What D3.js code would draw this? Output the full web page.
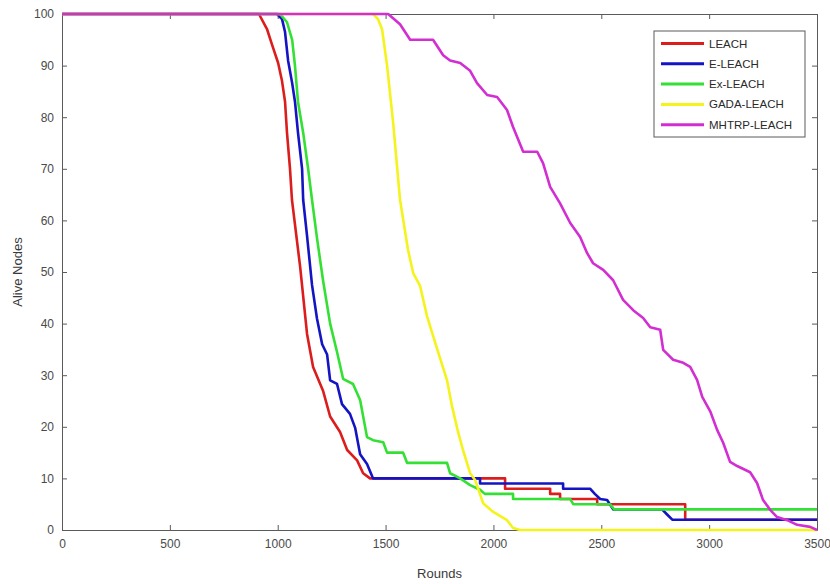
<!DOCTYPE html>
<html>
<head>
<meta charset="utf-8">
<script src="https://cdn.jsdelivr.net/npm/d3@7"></script>
<style>
  body { margin: 0; background: #fff; }
  text { font-family: "Liberation Sans", Arial, sans-serif; }
</style>
</head>
<body>
<div id="chart"></div>
<script>
// series as [round, alive nodes]
var seriesNames = ["LEACH", "E-LEACH", "Ex-LEACH", "GADA-LEACH", "MHTRP-LEACH"];

var leach = [[0, 100], [913, 100], [951, 97], [974, 94], [1002, 90.5], [1020, 87], [1034, 83],
  [1043, 77], [1057, 70], [1066, 64], [1104, 51], [1136, 38], [1164, 31.6], [1210, 27],
  [1243, 22], [1289, 19], [1322, 15.5], [1368, 13.5], [1396, 11], [1428, 10], [2054, 10],
  [2054, 8], [2263, 8], [2263, 7], [2309, 7], [2309, 6], [2481, 6], [2481, 5], [2889, 5],
  [2889, 2], [3500, 2]];

var eLeach = [[0, 100], [997, 100], [1020, 99], [1034, 96.5], [1048, 91], [1067, 86.6],
  [1080, 83], [1094, 77], [1113, 70], [1118, 64], [1136, 57], [1159, 47.5], [1182, 41],
  [1206, 36], [1229, 34], [1243, 29], [1275, 28.3], [1298, 24.4], [1335, 22.5], [1359, 19.8],
  [1382, 14.7], [1414, 12.8], [1442, 10], [1938, 10], [1938, 9], [2323, 9], [2323, 8],
  [2448, 8], [2470, 7], [2495, 6], [2527, 5.8], [2555, 4], [2782, 4], [2805, 3], [2829, 2],
  [3500, 2]];

var exLeach = [[0, 100], [1011, 100], [1043, 98.4], [1067, 95], [1080, 90], [1094, 83],
  [1118, 77], [1141, 70], [1159, 64], [1182, 56.6], [1210, 48.4], [1243, 40], [1275, 34.5],
  [1303, 29.3], [1349, 28.3], [1382, 25.2], [1414, 18], [1442, 17.4], [1489, 17], [1507, 15],
  [1581, 15], [1600, 13], [1785, 13], [1799, 11], [1846, 10], [1892, 8.7], [1938, 7.8],
  [1960, 7], [2091, 7], [2091, 6], [2356, 6], [2370, 5], [2540, 5], [2560, 4], [3500, 4]];

var gadaLeach = [[0, 100], [1442, 100], [1465, 99], [1484, 97], [1507, 90], [1535, 79],
  [1567, 64], [1604, 54.3], [1628, 49.8], [1660, 47.3], [1693, 41.3], [1739, 35.1],
  [1785, 29], [1808, 24], [1836, 19], [1859, 15.5], [1892, 11], [1915, 9.7], [1952, 5.2],
  [1999, 3.5], [2063, 1.9], [2091, 0.4], [2124, 0], [3500, 0]];

var mhtrpLeach = [[0, 100], [1512, 100], [1567, 98], [1614, 95], [1720, 95], [1767, 92],
  [1799, 91], [1846, 90.5], [1892, 89], [1924, 86.6], [1971, 84.3], [2017, 83.9],
  [2063, 81.4], [2091, 78.1], [2138, 73.3], [2203, 73.3], [2230, 71.1], [2263, 66.5],
  [2309, 63.3], [2356, 59.5], [2402, 56.8], [2434, 53.7], [2462, 51.7], [2509, 50.4],
  [2555, 48.4], [2601, 44.6], [2648, 42.6], [2694, 41.1], [2727, 39.3], [2773, 38.8],
  [2787, 34.9], [2833, 33], [2880, 32.4], [2912, 31.6], [2944, 29.1], [2968, 25.8],
  [3005, 23], [3037, 19.4], [3065, 16.9], [3097, 13.2], [3130, 12.4], [3190, 11.2],
  [3222, 9.1], [3250, 5.8], [3283, 3.9], [3315, 2.5], [3362, 1.9], [3408, 1], [3468, 0.6],
  [3500, 0]];

var seriesValues = [leach, eLeach, exLeach, gadaLeach, mhtrpLeach];

var xTicks = [0, 500, 1000, 1500, 2000, 2500, 3000, 3500];
var yTicks = [0, 10, 20, 30, 40, 50, 60, 70, 80, 90, 100];

// styling
var colors = ["#dc1d1d", "#1414c4", "#34e034", "#f4f41c", "#d22ed2"];
var width = 830, height = 584;
var plotLeft = 62, plotRight = 817, plotTop = 14, plotBottom = 530;

var svg = d3.select("#chart")
  .append("svg")
  .attr("width", width)
  .attr("height", height);

var xScale = d3.scaleLinear().domain([0, 3500]).range([plotLeft, plotRight]);
var yScale = d3.scaleLinear().domain([0, 100]).range([plotBottom, plotTop]);

// axes with inward ticks on all four sides
function styleAxis(g) {
  g.selectAll(".domain").attr("stroke", "#5a5a5a").attr("fill", "none");
  g.selectAll(".tick line").attr("stroke", "#5a5a5a");
  g.selectAll(".tick text")
    .attr("fill", "#4a4a4a")
    .style("font-size", "12px");
}

svg.append("g")
  .attr("transform", "translate(0," + plotBottom + ")")
  .call(d3.axisBottom(xScale).tickValues(xTicks).tickFormat(d3.format("d"))
    .tickSizeInner(-5).tickSizeOuter(0).tickPadding(9))
  .call(styleAxis);

svg.append("g")
  .attr("transform", "translate(0," + plotTop + ")")
  .call(d3.axisTop(xScale).tickValues(xTicks).tickSizeInner(-5).tickSizeOuter(0).tickFormat(""))
  .call(styleAxis);

svg.append("g")
  .attr("transform", "translate(" + plotLeft + ",0)")
  .call(d3.axisLeft(yScale).tickValues(yTicks).tickFormat(d3.format("d"))
    .tickSizeInner(-5).tickSizeOuter(0).tickPadding(8))
  .call(styleAxis);

svg.append("g")
  .attr("transform", "translate(" + plotRight + ",0)")
  .call(d3.axisRight(yScale).tickValues(yTicks).tickSizeInner(-5).tickSizeOuter(0).tickFormat(""))
  .call(styleAxis);

// lines go over the box, the way the 100 and 0 plateaus cover it in the picture
var line = d3.line()
  .x(function (d) { return xScale(d[0]); })
  .y(function (d) { return yScale(d[1]); });

svg.append("g")
  .selectAll("path")
  .data(seriesValues)
  .enter()
  .append("path")
  .attr("d", line)
  .attr("fill", "none")
  .attr("stroke", function (d, i) { return colors[i]; })
  .attr("stroke-width", 2.6)
  .attr("stroke-linejoin", "round");

// axis titles
svg.append("text")
  .attr("x", (plotLeft + plotRight) / 2)
  .attr("y", 578)
  .attr("text-anchor", "middle")
  .attr("fill", "#3a3a3a")
  .style("font-size", "13px")
  .text("Rounds");

svg.append("text")
  .attr("transform", "translate(22," + ((plotTop + plotBottom) / 2) + ") rotate(-90)")
  .attr("text-anchor", "middle")
  .attr("fill", "#3a3a3a")
  .style("font-size", "13px")
  .text("Alive Nodes");

// legend box
var legend = svg.append("g").attr("transform", "translate(654,31)");
legend.append("rect")
  .attr("width", 151)
  .attr("height", 106)
  .attr("fill", "#fff")
  .attr("stroke", "#5a5a5a");

var items = legend.selectAll("g.item")
  .data(seriesNames)
  .enter()
  .append("g")
  .attr("class", "item")
  .attr("transform", function (d, i) { return "translate(0," + (12.5 + i * 20.3) + ")"; });

items.append("line")
  .attr("x1", 7)
  .attr("x2", 50)
  .attr("stroke", function (d, i) { return colors[i]; })
  .attr("stroke-width", 3);

items.append("text")
  .attr("x", 55)
  .attr("dy", "0.35em")
  .attr("fill", "#2a2a2a")
  .style("font-size", "11.5px")
  .text(function (d) { return d; });
</script>
</body>
</html>
